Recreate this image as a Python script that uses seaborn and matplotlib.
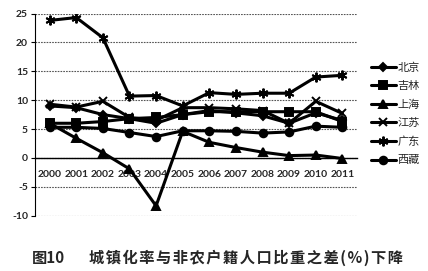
import matplotlib
matplotlib.use("Agg")
import matplotlib.pyplot as plt
import seaborn as sns
import pandas as pd
import numpy as np

years = ["2000", "2001", "2002", "2003", "2004", "2005", "2006", "2007", "2008", "2009", "2010", "2011"]
beijing = [9.0, 8.7, 7.5, 6.8, 6.0, 7.5, 8.2, 7.8, 7.3, 6.0, 7.8, 6.5]
jilin = [6.0, 6.0, 6.3, 6.8, 7.0, 7.5, 8.0, 8.0, 8.0, 8.0, 8.0, 6.3]
shanghai = [6.0, 3.4, 0.9, -1.9, -8.3, 4.6, 2.7, 1.8, 1.0, 0.4, 0.5, -0.1]
jiangsu = [9.3, 8.8, 9.8, 7.0, 6.5, 8.7, 8.7, 8.5, 8.2, 6.0, 9.8, 7.7]
guangdong = [23.8, 24.3, 20.8, 10.7, 10.8, 9.0, 11.3, 11.0, 11.2, 11.2, 14.0, 14.3]
xizang = [5.3, 5.3, 5.1, 4.4, 3.7, 4.7, 4.7, 4.6, 4.3, 4.5, 5.5, 5.3]
names = ["北京", "吉林", "上海", "江苏", "广东", "西藏"]
yticks = [-10, -5, 0, 5, 10, 15, 20, 25]
caption_num = "图10"
caption_text = "城镇化率与非农户籍人口比重之差(%)下降"

series = [beijing, jilin, shanghai, jiangsu, guangdong, xizang]
markers = ["D", "s", "^", "x", (6, 2, 0), "o"]
msizes = [4.5, 5.5, 5.5, 6, 7, 5.5]

sns.set_style("white")
plt.rcParams['font.family'] = ['Noto Sans CJK SC', 'DejaVu Sans']

fig = plt.figure(figsize=(4.28, 2.71), dpi=100)
ax = fig.add_axes([35/428, 1-215.7/271, (357-35)/428, (215.7-13.5)/271])

xs = np.arange(len(years))
for name, vals, m, ms in zip(names, series, markers, msizes):
    df = pd.DataFrame({"x": xs, "y": vals})
    sns.lineplot(data=df, x="x", y="y", ax=ax, color="black", linewidth=2.2,
                 marker=m, markersize=ms, markeredgecolor="black",
                 markeredgewidth=1.4, markerfacecolor="black", label=name)

ax.set_ylim(-10, 25)
ax.set_xlim(-0.55, 11.55)
ax.set_yticks(yticks)
ax.set_yticklabels([str(v) for v in yticks], fontfamily="Lato", fontsize=7.5, fontweight="bold")
ax.yaxis.grid(True, linestyle=(0, (1.5, 1)), color="#555555", linewidth=0.8)
ax.set_axisbelow(True)
ax.set_xlabel("")
ax.set_ylabel("")

for s in ["top", "right"]:
    ax.spines[s].set_visible(False)
ax.spines["left"].set_color("black")
ax.spines["left"].set_linewidth(0.8)
ax.spines["bottom"].set_position(("data", 0))
ax.spines["bottom"].set_color("black")
ax.spines["bottom"].set_linewidth(1.0)

ax.set_xticks(xs)
ax.set_xticklabels(years, fontfamily="Lato", fontsize=7.5, fontweight="bold")
ax.set_xticks(np.arange(-0.5, 12, 1), minor=True)
ax.tick_params(axis="x", which="major", length=0, pad=9)
ax.tick_params(axis="x", which="minor", length=4, width=0.8, direction="out", color="black")
ax.tick_params(axis="y", which="major", length=3, width=0.8, direction="out", color="black", pad=2, left=True)

leg = ax.legend(loc="upper left", bbox_to_anchor=(1.03, 0.78), frameon=False,
                fontsize=8, handlelength=2.2, labelspacing=0.75, handletextpad=0.2,
                borderaxespad=0)

fig.text(32/428, 1-258/271, caption_num, ha="left", va="center", fontsize=11,
         fontweight="bold", family=['Noto Sans CJK SC', 'DejaVu Sans'])
fig.text(403/428, 1-258/271, "\u200a".join(caption_text), ha="right", va="center", fontsize=11,
         fontweight="bold", family=['Noto Sans CJK SC', 'DejaVu Sans'])

fig.savefig("out.png", dpi=100)
